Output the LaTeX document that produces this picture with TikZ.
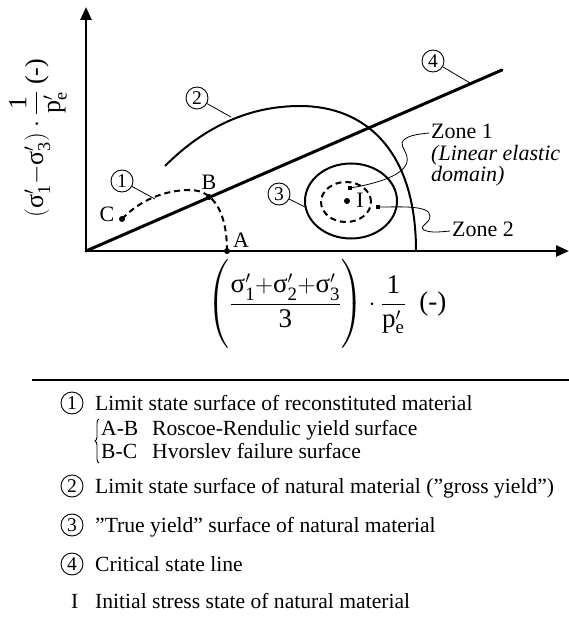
\documentclass[tikz,border=0pt]{standalone}
\usepackage{amsmath}
\usepackage{fontspec}
\setmainfont{Liberation Serif}
\usetikzlibrary{arrows.meta,decorations.pathreplacing}
\tikzset{
  axisline/.style={line width=2.6pt,-{Triangle[length=13pt,width=11pt]}},
  cslline/.style={line width=3pt,line cap=round},
  curveline/.style={line width=2pt},
  dcurveline/.style={line width=2pt,dash pattern=on 6pt off 4pt},
  leaderline/.style={line width=0.8pt},
  numc/.style={circle,draw,line width=0.9pt,minimum size=22pt,inner sep=0pt,font=\fontsize{19.5}{19.5}\selectfont},
  lbl/.style={font=\fontsize{22}{22}\selectfont,inner sep=0pt},
  lblw/.style={font=\fontsize{22}{22}\selectfont,inner sep=0pt,anchor=base west},
  dotc/.style={circle,fill,inner sep=0pt,minimum size=6pt},
  sqdot/.style={fill,inner sep=0pt,minimum size=4pt},
  leg/.style={anchor=base west,inner sep=0pt,font=\fontsize{21.6}{21.6}\selectfont},
  axlab/.style={font=\fontsize{27}{27}\selectfont,inner sep=0pt},
  ylabstyle/.style={font=\fontsize{26}{26}\selectfont,inner sep=0pt},
}
\begin{document}
\begin{tikzpicture}[x=1pt,y=-1pt]
\useasboundingbox (0,0) rectangle (569,628);
% axes
\coordinate (O) at (86,251);
\coordinate (Ytip) at (86,7);
\coordinate (Xtip) at (569,251);
\draw[axisline] (O) -- (Ytip);
\draw[axisline] (O) -- (Xtip);
% critical state line
\coordinate (E) at (502,70);
\draw[cslline] (O) -- (E);
% gross yield curve
\draw[curveline] (165,166) .. controls (205,126) and (250,106) .. (300,106)
  .. controls (365,106) and (416,150) .. (416,251);
% reconstituted curve (dashed)
\coordinate (Cp) at (122,219);
\coordinate (Bp) at (209,197);
\coordinate (Ap) at (227,251);
\draw[dcurveline] (Cp) .. controls (140,200) and (165,190) .. (190,190)
  .. controls (215,190) and (227,215) .. (Ap);
\node[dotc] (dC) at (Cp) {};
\node[dotc] (dB) at (Bp) {};
\node[dotc] (dA) at (Ap) {};
\node[lbl] (lC) at (107,214) {C};
\node[lbl] (lB) at (209,182) {B};
\node[lbl] (lA) at (241,240) {A};
% true yield ellipse and elastic zone
\draw[curveline] (351,201) ellipse [x radius=46pt, y radius=37.5pt];
\draw[dcurveline] (346,202) ellipse [x radius=25pt, y radius=20pt];
\node[dotc] (dI) at (347,201) {};
\node[lbl] (lI) at (360,200) {I};
\node[sqdot] (s1) at (350,188) {};
\node[sqdot] (s2) at (378,207) {};
\node[lblw] (z1) at (431,139) {Zone 1};
\node[lblw] (z1a) at (431,161) {\textit{(Linear elastic}};
\node[lblw] (z1b) at (431,182) {\textit{domain)}};
\node[lblw] (z2) at (452,236) {Zone 2};
\draw[leaderline] (s1) .. controls (385,182) and (410,172) .. (407,157)
  .. controls (405,148) and (398,144) .. (405,139) .. controls (410,135) and (420,134) .. (429,133);
\draw[leaderline] (s2) .. controls (400,207) and (430,205) .. (430,216)
  .. controls (430,224) and (418,226) .. (424,230) .. controls (430,233) and (440,232) .. (450,231);
% numbered callouts
\node[numc] (n1) at (122,181) {1};
\coordinate (n1e) at (155,199);
\draw[leaderline] (n1) -- (n1e);
\node[numc] (n2) at (197,98) {2};
\coordinate (n2e) at (231,117);
\draw[leaderline] (n2) -- (n2e);
\node[numc] (n3) at (279,194) {3};
\coordinate (n3e) at (305,207);
\draw[leaderline] (n3) -- (n3e);
\node[numc] (n4) at (433,61) {4};
\coordinate (n4e) at (470,83);
\draw[leaderline] (n4) -- (n4e);
% axis labels
\node[ylabstyle,rotate=90] (ylab) at (38,138)
  {$\left(\text{σ}'_{\text{1}}{-}\text{σ}'_{\text{3}}\right)\cdot\dfrac{\text{1}}{\text{p}'_{\text{e}}}\ \text{(-)}$};
\node[axlab] (xlab) at (327,304)
  {$\left(\vrule height 35pt depth 35pt width 0pt\dfrac{\text{σ}'_{\text{1}}{+}\text{σ}'_{\text{2}}{+}\text{σ}'_{\text{3}}}{\text{3}}\right)\cdot\dfrac{\text{1}}{\text{p}'_{\text{e}}}\ \ \text{(-)}$};
% legend
\coordinate (L1) at (32,380);
\coordinate (L2) at (569,380);
\draw[line width=1.2pt] (L1) -- (L2);
\node[numc] (g1) at (72,403) {1};
\node[leg] (t1) at (95,410) {Limit state surface of reconstituted material};
\node[leg] (t1a) at (101,435) {A-B};
\node[leg] (t1b) at (152,435) {Roscoe-Rendulic yield surface};
\node[leg] (t1c) at (101,458) {B-C};
\node[leg] (t1d) at (152,458) {Hvorslev failure surface};
\coordinate (br1) at (99,463);
\coordinate (br2) at (99,419);
\draw[line width=0.9pt,decorate,decoration={brace,amplitude=4pt}] (br1) -- (br2);
\node[numc] (g2) at (72,486) {2};
\node[leg] (t2) at (95,493) {Limit state surface of natural material (”gross yield”)};
\node[numc] (g3) at (72,525) {3};
\node[leg] (t3) at (95,532) {”True yield” surface of natural material};
\node[numc] (g4) at (72,564) {4};
\node[leg] (t4) at (95,571) {Critical state line};
\node[leg] (gI) at (71,608) {I};
\node[leg] (tI) at (95,608) {Initial stress state of natural material};
\end{tikzpicture}
\end{document}
